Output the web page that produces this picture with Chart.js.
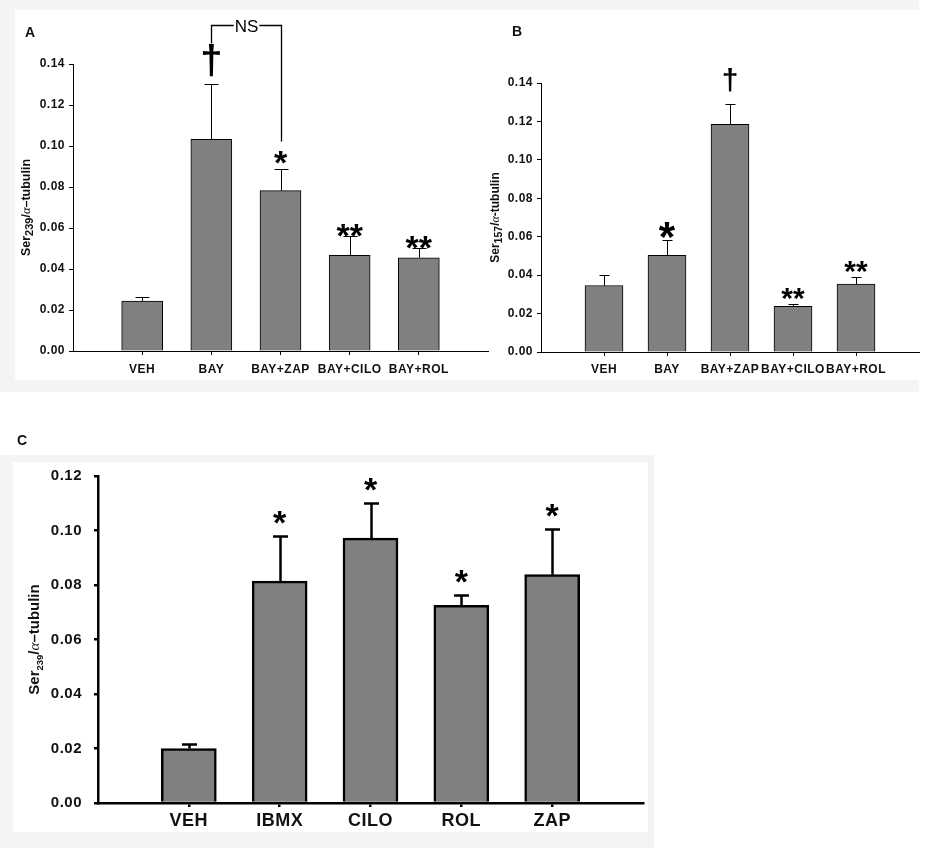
<!DOCTYPE html>
<html lang="en">
<head>
<meta charset="UTF-8">
<title>Ser239 / Ser157 over alpha-tubulin</title>
<script src="https://cdn.jsdelivr.net/npm/chart.js@4.4.1/dist/chart.umd.min.js"></script>
<style>
  body { margin: 0; background: #fff; font-family: "Liberation Sans", Arial, sans-serif; }
  #page { position: relative; width: 945px; height: 848px; overflow: hidden; }
  .frame { position: absolute; background: #f4f4f4; }
  .sheet { position: absolute; background: #fff; }
  .box { position: absolute; }
  .tag { position: absolute; font-weight: bold; font-size: 14px; line-height: 14px; color: #111; }
</style>
</head>
<body>
<div id="page">
  <div class="frame" style="left:0;top:0;width:919px;height:392px"></div>
  <div class="sheet" style="left:15px;top:10px;width:904px;height:370px"></div>
  <div class="frame" style="left:0;top:455px;width:654px;height:393px"></div>
  <div class="sheet" style="left:13px;top:462px;width:635px;height:370px"></div>

  <div class="box" style="left:0;top:0;width:500px;height:392px"><canvas id="chartA"></canvas></div>
  <div class="box" style="left:480px;top:0;width:455px;height:392px"><canvas id="chartB"></canvas></div>
  <div class="box" style="left:0;top:400px;width:700px;height:448px"><canvas id="chartC"></canvas></div>

  <div class="tag" style="left:25px;top:25px">A</div>
  <div class="tag" style="left:512px;top:24px">B</div>
  <div class="tag" style="left:17px;top:433px">C</div>
</div>

<script>
// panel A : Ser239 / alpha-tubulin
const catsA = ['VEH', 'BAY', 'BAY+ZAP', 'BAY+CILO', 'BAY+ROL'];
const meanA = [0.0244, 0.1033, 0.0782, 0.0467, 0.0455];
const semA = [0.0018, 0.0271, 0.0104, 0.0094, 0.0046];
const marksA = ['', '†', '*', '**', '**'];

// panel B : Ser157 / alpha-tubulin
const catsB = ['VEH', 'BAY', 'BAY+ZAP', 'BAY+CILO', 'BAY+ROL'];
const meanB = [0.0346, 0.0503, 0.1185, 0.0238, 0.0353];
const semB = [0.0053, 0.0080, 0.0106, 0.0011, 0.0038];
const marksB = ['', '*', '†', '**', '**'];

// panel C : Ser239 / alpha-tubulin, PDE inhibitors alone
const catsC = ['VEH', 'IBMX', 'CILO', 'ROL', 'ZAP'];
const meanC = [0.0200, 0.0814, 0.0972, 0.0725, 0.0838];
const semC = [0.0018, 0.0166, 0.0129, 0.0037, 0.0169];
const marksC = ['', '*', '*', '*', '*'];

// y axis ticks
const yMaxAB = 0.14;
const yMaxC = 0.12;
const yStep = 0.02;

const FONT = '"Liberation Sans", Arial, sans-serif';

// the tick text of the original is a little spaced out
const spacing = {
    id: 'spacing',
    beforeDraw(chart, args, o) { chart.ctx.letterSpacing = o.px + 'px'; }
};

// error bars (upper only) + significance marks + NS bracket
const errorMarks = {
    id: 'errorMarks',
    afterDatasetsDraw(chart, args, o) {
        const ctx = chart.ctx;
        const ys = chart.scales.y;
        const bars = chart.getDatasetMeta(0).data;
        const tops = [];
        ctx.save();
        ctx.letterSpacing = '0px';
        ctx.strokeStyle = '#000';
        ctx.fillStyle = '#000';
        ctx.lineWidth = o.lineWidth;
        o.mean.forEach((m, i) => {
            const bar = bars[i + 1];
            const x = Math.round(bar.x) + 0.5;
            const yTop = Math.round(ys.getPixelForValue(m + o.sem[i])) + 0.5;
            ctx.beginPath();
            ctx.moveTo(x, bar.y);
            ctx.lineTo(x, yTop);
            ctx.moveTo(x - o.cap / 2, yTop);
            ctx.lineTo(x + o.cap / 2, yTop);
            ctx.stroke();

            const mk = o.marks[i];
            if (!mk) return;
            const st = mk === '†' ? o.dagger : (mk === '**' ? o.double : o.star);
            ctx.font = st.font;
            ctx.textAlign = 'center';
            ctx.textBaseline = 'alphabetic';
            const tm = ctx.measureText(mk);
            const base = yTop - st.gap - tm.actualBoundingBoxDescent;
            ctx.fillText(mk, bar.x, base);
            tops[i] = { x: x, y: base - tm.actualBoundingBoxAscent };
        });

        const b = o.bracket;
        if (b) {
            const L = tops[b.from], R = tops[b.to];
            const yb = Math.round(chart.chartArea.top + b.dy) + 0.5;
            ctx.font = b.font;
            const tw = ctx.measureText(b.text).width;
            const xm = (L.x + R.x) / 2;
            ctx.lineWidth = 1.3;
            ctx.beginPath();
            ctx.moveTo(L.x, L.y);
            ctx.lineTo(L.x, yb);
            ctx.lineTo(xm - tw / 2 - 1, yb);
            ctx.moveTo(xm + tw / 2 + 1, yb);
            ctx.lineTo(R.x, yb);
            ctx.lineTo(R.x, R.y - b.drop);
            ctx.stroke();
            ctx.textAlign = 'center';
            ctx.textBaseline = 'middle';
            ctx.fillText(b.text, xm, yb + 2);
        }
        ctx.restore();
    }
};

// rotated y title with subscript
const yTitle = {
    id: 'yTitle',
    afterDraw(chart, args, o) {
        const ctx = chart.ctx, a = chart.chartArea;
        ctx.save();
        ctx.letterSpacing = '0px';
        ctx.translate(o.x, (a.top + a.bottom) / 2);
        ctx.rotate(-Math.PI / 2);
        ctx.fillStyle = '#111';
        ctx.textAlign = 'left';
        ctx.textBaseline = 'alphabetic';
        const parts = [
            { t: 'Ser', f: 'bold ' + o.size + 'px ' + FONT, dy: 0 },
            { t: o.sub, f: 'bold ' + o.subSize + 'px ' + FONT, dy: o.subDy },
            { t: '/', f: 'bold ' + o.size + 'px ' + FONT, dy: 0 },
            { t: 'α', f: 'italic ' + o.size + 'px "Liberation Serif", serif', dy: 0 },
            { t: o.rest, f: 'bold ' + o.size + 'px ' + FONT, dy: 0 }
        ];
        let w = 0;
        parts.forEach(p => { ctx.font = p.f; p.w = ctx.measureText(p.t).width; w += p.w; });
        let x = -w / 2;
        const base = o.size * 0.36;
        parts.forEach(p => { ctx.font = p.f; ctx.fillText(p.t, x, base + p.dy); x += p.w; });
        ctx.restore();
    }
};

function barPanel(id, cats, mean, sem, marks, s) {
    const labels = ['', ...cats, ''];
    const data = [null, ...mean, null];
    return new Chart(document.getElementById(id), {
        type: 'bar',
        data: {
            labels: labels,
            datasets: [{
                data: data,
                backgroundColor: '#808080',
                borderColor: '#000',
                borderWidth: s.border,
                borderSkipped: 'start',
                barThickness: s.barW
            }]
        },
        options: {
            responsive: true,
            maintainAspectRatio: false,
            animation: false,
            layout: { padding: s.pad },
            plugins: {
                legend: { display: false },
                tooltip: { enabled: false },
                spacing: { px: 0.5 },
                errorMarks: {
                    mean: mean, sem: sem, marks: marks,
                    lineWidth: s.errW, cap: s.cap,
                    star: s.star, double: s.double, dagger: s.dagger,
                    bracket: s.bracket
                },
                yTitle: s.title
            },
            scales: {
                x: {
                    type: 'category',
                    offset: false,
                    grid: {
                        offset: false,
                        drawOnChartArea: false,
                        drawTicks: true,
                        tickLength: 4,
                        lineWidth: s.axisW,
                        color: c => (c.index === 0 || c.index === labels.length - 1) ? 'rgba(0,0,0,0)' : '#000'
                    },
                    border: { display: true, color: '#000', width: s.axisW },
                    ticks: {
                        autoSkip: false,
                        maxRotation: 0,
                        padding: s.xPad,
                        color: '#111',
                        font: { family: FONT, size: s.xFont, weight: 'bold' }
                    },
                    afterFit: sc => { sc.height = s.xH; }
                },
                y: {
                    min: 0,
                    max: s.yMax,
                    ticks: {
                        stepSize: yStep,
                        callback: v => v.toFixed(2),
                        padding: s.yPad,
                        color: '#111',
                        font: { family: FONT, size: s.yFont, weight: 'bold' }
                    },
                    grid: { drawOnChartArea: false, tickLength: 4, color: '#000', lineWidth: s.axisW },
                    border: { display: true, color: '#000', width: s.axisW },
                    afterFit: sc => { sc.width = s.yW; }
                }
            }
        },
        plugins: [spacing, errorMarks, yTitle]
    });
}

barPanel('chartA', catsA, meanA, semA, marksA, {
    pad: { left: 0, top: 64, right: 12, bottom: 0 },
    yW: 73, xH: 41, yMax: yMaxAB, barW: 41, border: 1, axisW: 1, errW: 1, cap: 14,
    xFont: 12, yFont: 12, xPad: 7, yPad: 4,
    star: { font: 'bold 34px ' + FONT, gap: 6 },
    double: { font: 'bold 34px ' + FONT, gap: 0 },
    dagger: { font: 'bold 40px ' + FONT, gap: 8 },
    bracket: { from: 1, to: 2, text: 'NS', dy: -39.5, drop: 9, font: '17px ' + FONT },
    title: { x: 25, size: 12.5, sub: '239', subSize: 11, subDy: 3, rest: '–tubulin' }
});

barPanel('chartB', catsB, meanB, semB, marksB, {
    pad: { left: 0, top: 83, right: 16, bottom: 0 },
    yW: 61, xH: 40, yMax: yMaxAB, barW: 38, border: 1, axisW: 1, errW: 1, cap: 10,
    xFont: 12, yFont: 12, xPad: 6, yPad: 4,
    star: { font: 'bold 42px ' + FONT, gap: 3 },
    double: { font: 'bold 30px ' + FONT, gap: 5 },
    dagger: { font: 'bold 30px ' + FONT, gap: 13 },
    title: { x: 15, size: 12, sub: '157', subSize: 10.5, subDy: 3, rest: '-tubulin' }
});

barPanel('chartC', catsC, meanC, semC, marksC, {
    pad: { left: 0, top: 76, right: 57, bottom: 0 },
    yW: 98, xH: 45, yMax: yMaxC, barW: 55, border: 2.5, axisW: 2.5, errW: 2.5, cap: 15,
    xFont: 18, yFont: 15, xPad: 3, yPad: 12,
    star: { font: 'bold 34px ' + FONT, gap: 13 },
    double: { font: 'bold 34px ' + FONT, gap: 13 },
    dagger: { font: 'bold 34px ' + FONT, gap: 13 },
    title: { x: 34, size: 15, sub: '239', subSize: 9.5, subDy: 4, rest: '–tubulin' }
});
</script>
</body>
</html>
